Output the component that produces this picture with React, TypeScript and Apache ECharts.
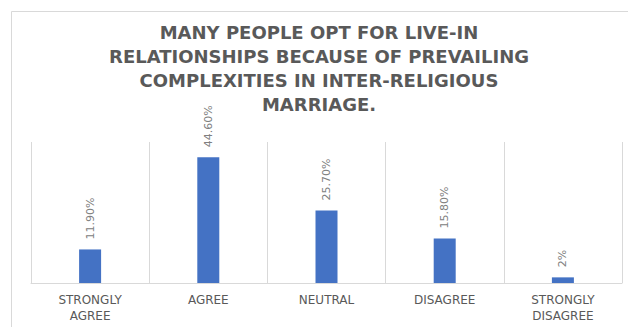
import React, { useEffect, useRef } from "react";
import * as echarts from "echarts";

const titleLines = [
  "MANY PEOPLE OPT FOR LIVE-IN",
  "RELATIONSHIPS BECAUSE OF PREVAILING",
  "COMPLEXITIES IN INTER-RELIGIOUS",
  "MARRIAGE.",
];
const categories = ["STRONGLY AGREE", "AGREE", "NEUTRAL", "DISAGREE", "STRONGLY DISAGREE"];
const values = [11.9, 44.6, 25.7, 15.8, 2];
const valueLabels = ["11.90%", "44.60%", "25.70%", "15.80%", "2%"];

export default function App() {
  const ref = useRef<HTMLDivElement>(null);
  useEffect(() => {
    if (!ref.current) return;
    const chart = echarts.init(ref.current, null, { renderer: "svg" });
    chart.setOption({
      animation: false,
      backgroundColor: "#ffffff",
      title: {
        text: titleLines.join("\n"),
        left: 319,
        top: 20,
        padding: 0,
        textAlign: "center",
        textStyle: {
          fontFamily: "DejaVu Sans",
          fontWeight: "bold",
          fontSize: 18,
          lineHeight: 24,
          color: "#595959",
        },
      },
      graphic: [
        {
          type: "rect",
          shape: { x: 11.5, y: 11.5, width: 700, height: 400 },
          style: { fill: "none", stroke: "#d9d9d9", lineWidth: 1 },
          silent: true,
        },
      ],
      grid: { left: 31, right: 6, top: 142, bottom: 44 },
      xAxis: {
        type: "category",
        data: categories,
        axisLine: { show: true, lineStyle: { color: "#d9d9d9", width: 1 } },
        axisTick: { show: false },
        splitLine: { show: true, lineStyle: { color: "#d9d9d9", width: 1 } },
        axisLabel: {
          interval: 0,
          margin: 9,
          fontFamily: "DejaVu Sans",
          fontSize: 12,
          lineHeight: 16,
          color: "#595959",
          formatter: (v: string) => v.replace(" ", "\n"),
        },
      },
      yAxis: {
        type: "value",
        min: 0,
        max: 50,
        show: false,
        splitLine: { show: false },
      },
      series: [
        {
          type: "bar",
          data: values,
          barWidth: 22,
          itemStyle: { color: "#4472C4" },
          label: {
            show: true,
            position: "top",
            rotate: 90,
            align: "left",
            verticalAlign: "middle",
            distance: 10,
            fontFamily: "DejaVu Sans",
            fontSize: 11,
            color: "#808080",
            formatter: (p: any) => valueLabels[p.dataIndex],
          },
        },
      ],
    });
    return () => chart.dispose();
  }, []);
  return (
    <div
      ref={ref}
      style={{ position: "fixed", left: 0, top: 0, width: 628, height: 327 }}
    />
  );
}
